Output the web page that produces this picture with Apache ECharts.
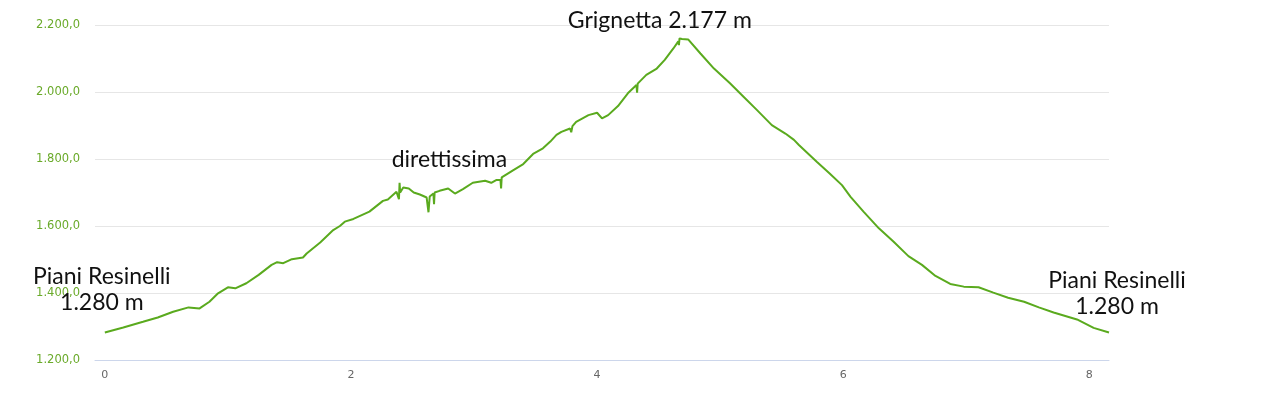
<!DOCTYPE html>
<html><head><meta charset="utf-8">
<script src="https://cdn.jsdelivr.net/npm/echarts@6/dist/echarts.min.js"></script>
<style>html,body{margin:0;padding:0;background:#fff}#c{width:1264px;height:402px}</style>
</head><body><div id="c"></div>
<script>
// distance (km)
const dist = [0,0.15,0.31,0.43,0.555,0.68,0.77,0.85,0.92,1.0,1.06,1.15,1.25,1.355,1.40,1.45,1.52,1.61,1.64,1.75,1.856,1.91,1.95,2.02,2.15,2.26,2.30,2.37,2.385,2.39,2.395,2.40,2.425,2.47,2.51,2.56,2.615,2.63,2.64,2.67,2.675,2.68,2.72,2.79,2.845,2.91,2.99,3.09,3.14,3.18,3.215,3.22,3.225,3.32,3.40,3.48,3.56,3.62,3.67,3.71,3.78,3.79,3.80,3.83,3.93,4.0,4.04,4.09,4.17,4.25,4.32,4.325,4.33,4.40,4.485,4.55,4.62,4.66,4.665,4.67,4.69,4.74,4.84,4.95,5.08,5.19,5.30,5.42,5.53,5.60,5.64,5.785,5.89,5.99,6.06,6.165,6.29,6.41,6.53,6.64,6.75,6.87,6.98,7.10,7.22,7.34,7.47,7.59,7.71,7.90,8.035,8.16];
// elevation (m)
const elev = [1282,1297,1314,1327,1344,1357,1354,1374,1399,1417,1414,1429,1454,1484,1492,1489,1501,1506,1518,1551,1588,1600,1613,1621,1643,1675,1679,1702,1707,1680,1729,1700,1715,1712,1700,1694,1685,1641,1688,1697,1665,1700,1705,1712,1697,1710,1729,1735,1729,1737,1737,1712,1745,1767,1785,1815,1832,1852,1872,1881,1891,1880,1898,1911,1931,1938,1921,1931,1958,1996,2021,1998,2025,2051,2070,2096,2130,2151,2140,2160,2158,2157,2115,2070,2026,1986,1946,1901,1876,1857,1842,1792,1757,1722,1687,1643,1593,1553,1510,1484,1451,1427,1419,1417,1401,1386,1374,1357,1342,1321,1296,1282];
const yTicks = [1200,1400,1600,1800,2000,2200];
const xTicks = [0,2,4,6,8];
// annotations: [text, x, y]
const notes = [
  ["Piani Resinelli\n1.280 m", 0, 1412],
  ["direttissima", 2.80, 1797],
  ["Grignetta 2.177 m", 4.51, 2200],
  ["Piani Resinelli\n1.280 m", 8.16, 1400]
];
const noteOffsets = [[-3,1],[0,0],[0,-4],[8,1]];

function fmt(v){
  const s = Math.round(v).toString().replace(/\B(?=(\d{3})+(?!\d))/g,'.');
  return s + ',0';
}
const chart = echarts.init(document.getElementById('c'), null, {renderer:'canvas'});
chart.setOption({
  animation:false,
  grid:{left:95,right:155,top:25,bottom:42,containLabel:false},
  xAxis:{type:'value',min:-0.08,max:8.16,
    axisLine:{show:true,lineStyle:{color:'#ccd6eb'}},
    axisTick:{show:false},splitLine:{show:false},
    axisLabel:{showMinLabel:false,showMaxLabel:false,color:'#666666',fontSize:11,fontFamily:'DejaVu Sans',margin:10,
      formatter:v=> xTicks.includes(Math.round(v*1000)/1000)?String(Math.round(v)):''}
  },
  yAxis:{type:'value',min:1200,max:2200,interval:200,
    axisLine:{show:false},axisTick:{show:false},
    splitLine:{lineStyle:{color:'#e6e6e6'}},
    axisLabel:{color:'#6aaa2a',fontSize:11.5,fontFamily:'DejaVu Sans',margin:15,formatter:v=>yTicks.includes(v)?fmt(v):''}
  },
  series:[{
    type:'line',
    data:dist.map((d,i)=>[d,elev[i]]),
    showSymbol:false,symbol:'none',
    lineStyle:{color:'#5aaa1e',width:2},
    markPoint:{
      symbol:'circle',symbolSize:0,
      label:{show:true,position:'inside',color:'#111',fontFamily:'Lato',fontSize:23,lineHeight:26,align:'center'},
      data:notes.map((n,i)=>({coord:[n[1],n[2]],value:n[0],label:{formatter:n[0],offset:noteOffsets[i]}}))
    }
  }]
});
</script></body></html>
